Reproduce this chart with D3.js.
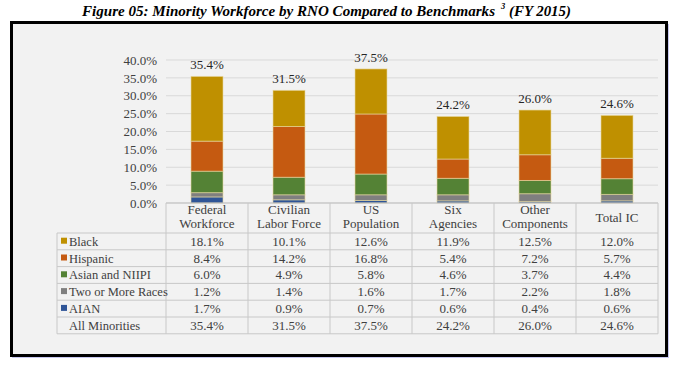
<!DOCTYPE html>
<html><head><meta charset="utf-8">
<script src="https://cdn.jsdelivr.net/npm/d3@7"></script>
<style>body{margin:0;background:#fff}svg{display:block}
svg text{font-family:"Liberation Serif","Times New Roman",Tinos,serif;}
</style>
</head><body>
<svg id="c" width="680" height="368"></svg>
<script>
const categories = [["Federal","Workforce"],["Civilian","Labor Force"],["US","Population"],["Six","Agencies"],["Other","Components"],["Total IC"]];
const seriesNames = ["Black","Hispanic","Asian and NIIPI","Two or More Races","AIAN"];
const black    = [18.1,10.1,12.6,11.9,12.5,12.0];
const hispanic = [8.4,14.2,16.8,5.4,7.2,5.7];
const asian    = [6.0,4.9,5.8,4.6,3.7,4.4];
const twoMore  = [1.2,1.4,1.6,1.7,2.2,1.8];
const aian     = [1.7,0.9,0.7,0.6,0.4,0.6];
const allMinorities = [35.4,31.5,37.5,24.2,26.0,24.6];
const yTicks = [0,5,10,15,20,25,30,35,40];
const colors = ["#BF9000","#C55A11","#548235","#7F7F7F","#2F5597"];

const seriesValues = [black,hispanic,asian,twoMore,aian];
const svg = d3.select("#c");

// title (three separate pieces)
const tAttrs = s => s.attr("font-weight","bold").attr("font-style","italic").attr("fill","#000").attr("lengthAdjust","spacingAndGlyphs");
svg.append("text").attr("x",82).attr("y",16).attr("font-size",15.5).attr("textLength",413).call(tAttrs)
  .text("Figure 05: Minority Workforce by RNO Compared to Benchmarks");
svg.append("text").attr("x",501).attr("y",9).attr("font-size",8.5).call(tAttrs).text("3");
svg.append("text").attr("x",509).attr("y",16).attr("font-size",15.5).attr("textLength",62).call(tAttrs).text("(FY 2015)");

// frame
svg.append("rect").attr("x",12).attr("y",24).attr("width",657).attr("height",334).attr("fill","#c8c8f0");
svg.append("rect").attr("x",11.5).attr("y",22.5).attr("width",655).attr("height",333)
  .attr("fill","#f2f2f2").attr("stroke","#000").attr("stroke-width",3);

const x0 = 166, x1 = 658;
const x = d3.scaleBand().domain(d3.range(categories.length)).range([x0,x1]);
const y = d3.scaleLinear().domain([0,40]).range([203,60]);

// gridlines
svg.append("g").selectAll("line").data(yTicks).join("line")
  .attr("x1",x0).attr("x2",x1).attr("y1",d=>y(d)).attr("y2",d=>y(d))
  .attr("stroke","#d9d9d9").attr("stroke-width",1);

// y axis
const yAxis = d3.axisLeft(y).tickValues(yTicks).tickFormat(d=>d.toFixed(1)+"%").tickSize(0).tickPadding(9);
const ga = svg.append("g").attr("transform",`translate(${x0},0)`).call(yAxis);
ga.attr("font-family",null);
ga.select(".domain").remove();
ga.selectAll("text").attr("font-size",13).attr("fill","#404040");

// stacks
const table = categories.map((c,i)=>{const o={i}; seriesNames.forEach((s,k)=>o[s]=seriesValues[k][i]); return o;});
const stack = d3.stack().keys(seriesNames.slice().reverse());
const layers = stack(table);
const bw = 32;
svg.append("g").selectAll("g").data(layers).join("g")
  .attr("fill",d=>colors[seriesNames.indexOf(d.key)])
  .selectAll("rect").data(d=>d).join("rect")
  .attr("x",d=>x(d.data.i)+x.bandwidth()/2-bw/2).attr("width",bw)
  .attr("y",d=>y(d[1])).attr("height",d=>y(d[0])-y(d[1]))
  .attr("stroke","#e8d8a0").attr("stroke-opacity",0.6).attr("stroke-width",1);

// baseline
svg.append("line").attr("x1",x0).attr("x2",x1).attr("y1",y(0)).attr("y2",y(0)).attr("stroke","#bfbfbf");

// totals
svg.append("g").selectAll("text").data(allMinorities).join("text")
  .attr("x",(d,i)=>x(i)+x.bandwidth()/2).attr("y",d=>y(d)-7)
  .attr("text-anchor","middle").attr("font-size",13).attr("fill","#262626")
  .text(d=>d.toFixed(1)+"%");

// table
const tLeft = 57, hTop = 203, hBot = 233, rowH = 16.8;
const rows = seriesNames.concat(["All Minorities"]);
const rowVals = seriesValues.concat([allMinorities]);
const gridC = "#c8c8c8";
const tg = svg.append("g");
d3.range(categories.length+1).forEach(i=>{
  const xx = i<categories.length ? x(i) : x1;
  tg.append("line").attr("x1",xx).attr("x2",xx).attr("y1",hTop).attr("y2",hBot+rowH*rows.length).attr("stroke",gridC);
});
tg.append("line").attr("x1",tLeft).attr("x2",tLeft).attr("y1",hBot).attr("y2",hBot+rowH*rows.length).attr("stroke",gridC);
d3.range(rows.length+1).forEach(r=>{
  const yy = hBot + r*rowH;
  tg.append("line").attr("x1",tLeft).attr("x2",x1).attr("y1",yy).attr("y2",yy).attr("stroke",gridC);
});
categories.forEach((c,i)=>{
  const cx = x(i)+x.bandwidth()/2;
  const t = tg.append("text").attr("text-anchor","middle").attr("font-size",13).attr("fill","#404040");
  if(c.length===1){ t.attr("x",cx).attr("y",222).text(c[0]); }
  else { c.forEach((line,k)=>t.append("tspan").attr("x",cx).attr("y",214+k*14).text(line)); }
});
rows.forEach((name,r)=>{
  const cy = hBot + r*rowH + rowH/2 + 4.3;
  if(r<seriesNames.length){
    tg.append("rect").attr("x",61).attr("y",cy-8).attr("width",6).attr("height",6).attr("fill",colors[r]);
  }
  tg.append("text").attr("x",69).attr("y",cy).attr("font-size",12.5).attr("fill","#404040").text(name);
  rowVals[r].forEach((v,i)=>{
    tg.append("text").attr("x",x(i)+x.bandwidth()/2).attr("y",cy).attr("text-anchor","middle")
      .attr("font-size",13).attr("fill","#404040").text(v.toFixed(1)+"%");
  });
});
</script>
</body></html>
